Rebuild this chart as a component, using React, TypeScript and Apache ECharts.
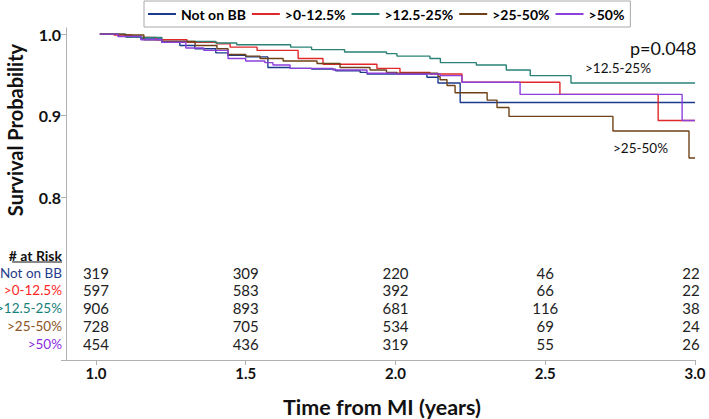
import React, { useEffect, useRef } from "react";
import * as echarts from "echarts";

// ---- Data ----
const groups = ["Not on BB", ">0-12.5%", ">12.5-25%", ">25-50%", ">50%"];
const lineColors = ["#1c3a8c", "#e0282a", "#2a8277", "#6e4218", "#8c40dc"];
const riskLabelColors = ["#1f3d8c", "#ff1f1f", "#16807a", "#8b5524", "#8a2be2"];

const xTicks = [1.0, 1.5, 2.0, 2.5, 3.0];
const yTicks = [0.8, 0.9, 1.0];
const riskTimes = [1.0, 1.5, 2.0, 2.5, 3.0];

const riskNotOnBB = [319, 309, 220, 46, 22];
const riskLow = [597, 583, 392, 66, 22];
const riskMid = [906, 893, 681, 116, 38];
const riskHigh = [728, 705, 534, 69, 24];
const riskTop = [454, 436, 319, 55, 26];

// Kaplan-Meier step points [time (years), survival]
const curveNotOnBB = [
  [1.013, 1.0], [1.074, 0.9975], [1.15, 0.994], [1.22, 0.99], [1.28, 0.986],
  [1.33, 0.982], [1.4, 0.977], [1.44, 0.974], [1.5, 0.972], [1.574, 0.959],
  [1.648, 0.958], [1.72, 0.957], [1.8, 0.955], [1.882, 0.953], [1.905, 0.951],
  [2.105, 0.947], [2.142, 0.94], [2.216, 0.916], [3.0, 0.916],
];
const curveLow = [
  [1.013, 1.0], [1.06, 0.999], [1.12, 0.996], [1.2, 0.993], [1.304, 0.99],
  [1.404, 0.988], [1.448, 0.984], [1.538, 0.98], [1.675, 0.97], [1.758, 0.963],
  [1.938, 0.958], [2.015, 0.953], [2.115, 0.951], [2.222, 0.941], [2.549, 0.926],
  [2.877, 0.894], [3.0, 0.894],
];
const curveMid = [
  [1.013, 1.0], [1.1, 0.996], [1.22, 0.991], [1.4, 0.989], [1.47, 0.987],
  [1.65, 0.984], [1.72, 0.981], [1.83, 0.978], [1.97, 0.976], [2.005, 0.973],
  [2.115, 0.97], [2.15, 0.965], [2.27, 0.962], [2.37, 0.956], [2.45, 0.949],
  [2.586, 0.94], [3.0, 0.94],
];
const curveHigh = [
  [1.013, 1.0], [1.097, 0.999], [1.16, 0.993], [1.22, 0.991], [1.331, 0.986],
  [1.404, 0.982], [1.441, 0.975], [1.5, 0.973], [1.548, 0.97], [1.625, 0.967],
  [1.738, 0.964], [1.815, 0.959], [1.915, 0.956], [1.97, 0.953], [2.005, 0.952],
  [2.142, 0.948], [2.149, 0.944], [2.172, 0.937], [2.199, 0.928], [2.306, 0.919],
  [2.339, 0.91], [2.379, 0.899], [2.726, 0.881], [2.98, 0.848], [3.0, 0.848],
];
const curveTop = [
  [1.013, 1.0], [1.074, 0.997], [1.15, 0.993], [1.22, 0.99], [1.3, 0.983],
  [1.36, 0.98], [1.441, 0.97], [1.5, 0.967], [1.564, 0.965], [1.591, 0.962],
  [1.648, 0.958], [1.791, 0.956], [1.905, 0.952], [2.0, 0.951], [2.149, 0.949],
  [2.222, 0.941], [2.416, 0.926], [2.957, 0.894], [3.0, 0.894],
];

const curves = [curveNotOnBB, curveLow, curveMid, curveHigh, curveTop];
const riskRows = [riskNotOnBB, riskLow, riskMid, riskHigh, riskTop];

const FONT = "Lato, 'Open Sans', sans-serif";

export default function App() {
  const ref = useRef<HTMLDivElement>(null);

  useEffect(() => {
    if (!ref.current) return;
    const chart = echarts.init(ref.current, null, { renderer: "svg" });

    chart.setOption({
      animation: false,
      backgroundColor: "#ffffff",
      grid: { left: 66, right: 14, top: 28, bottom: 59 },
      legend: {
        data: groups,
        left: 144,
        top: 1,
        padding: [6, 6, 6, 4],
        borderColor: "#a8a8a8",
        borderWidth: 1,
        itemGap: 6,
        itemWidth: 28,
        itemHeight: 2,
        icon: "rect",
        textStyle: { fontFamily: FONT, fontWeight: "bold", fontSize: 14, color: "#000" },
      },
      xAxis: {
        type: "value",
        min: 0.9,
        max: 3.0,
        splitLine: { show: false },
        axisLine: { lineStyle: { color: "#b0b0b0" } },
        axisTick: { customValues: xTicks, length: 5, lineStyle: { color: "#b0b0b0" } },
        axisLabel: {
          customValues: xTicks,
          formatter: (v: number) => v.toFixed(1),
          fontFamily: FONT,
          fontWeight: "bold",
          fontSize: 15,
          color: "#111",
          margin: 5,
        },
      },
      yAxis: {
        type: "value",
        min: 0.6,
        max: 1.0075,
        splitLine: { show: false },
        axisLine: { show: true, lineStyle: { color: "#b0b0b0" } },
        axisTick: { show: true, customValues: [0.6, ...yTicks], length: 5, lineStyle: { color: "#b0b0b0" } },
        axisLabel: {
          customValues: yTicks,
          formatter: (v: number) => v.toFixed(1),
          fontFamily: FONT,
          fontWeight: "bold",
          fontSize: 16,
          color: "#111",
          margin: 5,
        },
      },
      series: groups.map((name, i) => ({
        type: "line",
        name,
        step: "end",
        symbol: "none",
        data: curves[i],
        lineStyle: { width: 1.4, color: lineColors[i] },
        itemStyle: { color: lineColors[i] },
      })),
    });

    const xs = riskTimes.map((t) => chart.convertToPixel({ xAxisIndex: 0 }, t) as number);
    const rowY = [272.5, 290.2, 308, 325.8, 343.5];
    const graphics: any[] = [];

    graphics.push({
      type: "text",
      x: 62,
      y: 255,
      style: {
        text: "# at Risk",
        textAlign: "right",
        textVerticalAlign: "middle",
        font: `bold 14px ${FONT}`,
        fill: "#111",
      },
    });
    graphics.push({
      type: "line",
      shape: { x1: 12, y1: 262, x2: 62, y2: 262 },
      style: { stroke: "#111", lineWidth: 1 },
    });

    groups.forEach((g, r) => {
      graphics.push({
        type: "text",
        x: 62,
        y: rowY[r],
        style: {
          text: g,
          textAlign: "right",
          textVerticalAlign: "middle",
          font: `13.5px ${FONT}`,
          fill: riskLabelColors[r],
        },
      });
      riskRows[r].forEach((n, c) => {
        graphics.push({
          type: "text",
          x: xs[c] - (c === riskTimes.length - 1 ? 4 : 0),
          y: rowY[r],
          style: {
            text: String(n),
            textAlign: "center",
            textVerticalAlign: "middle",
            font: `15px ${FONT}`,
            fill: "#222",
          },
        });
      });
    });

    graphics.push(
      {
        type: "text",
        x: 630,
        y: 48,
        style: { text: "p=0.048", textAlign: "left", textVerticalAlign: "middle", font: `18px ${FONT}`, fill: "#111" },
      },
      {
        type: "text",
        x: 585,
        y: 68,
        style: { text: ">12.5-25%", textAlign: "left", textVerticalAlign: "middle", font: `13.5px ${FONT}`, fill: "#111" },
      },
      {
        type: "text",
        x: 613,
        y: 147.5,
        style: { text: ">25-50%", textAlign: "left", textVerticalAlign: "middle", font: `13.5px ${FONT}`, fill: "#111" },
      },
      {
        type: "text",
        x: 382,
        y: 407,
        style: {
          text: "Time from MI (years)",
          textAlign: "center",
          textVerticalAlign: "middle",
          font: `bold 21.5px ${FONT}`,
          fill: "#111",
        },
      },
      {
        type: "text",
        x: 15,
        y: 130,
        rotation: Math.PI / 2,
        style: {
          text: "Survival Probability",
          textAlign: "center",
          textVerticalAlign: "middle",
          font: `bold 20px ${FONT}`,
          fill: "#111",
        },
      }
    );

    chart.setOption({ graphic: graphics });

    return () => chart.dispose();
  }, []);

  return (
    <div
      ref={ref}
      style={{ position: "fixed", left: 0, top: 0, width: 709, height: 419, background: "#fff" }}
    />
  );
}
